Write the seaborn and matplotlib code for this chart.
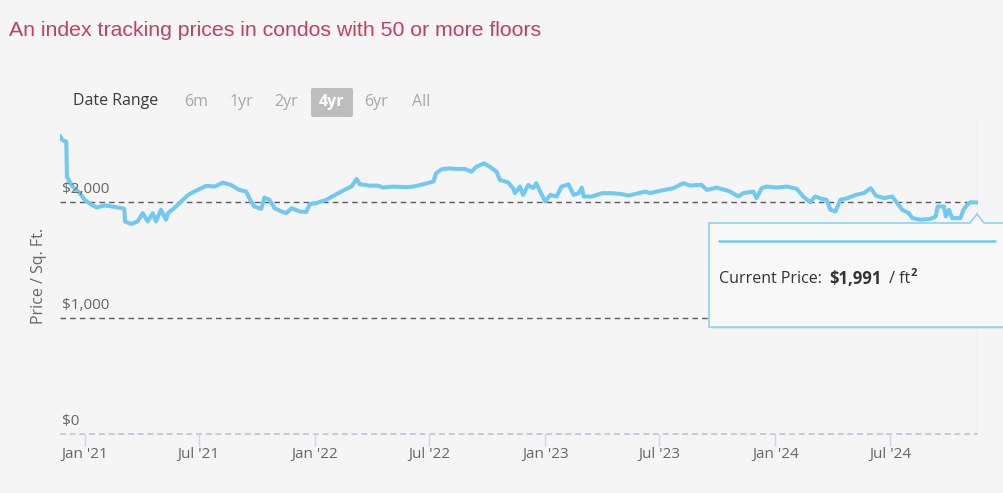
import matplotlib
matplotlib.use("Agg")
import matplotlib.pyplot as plt
from matplotlib.patches import Polygon, FancyBboxPatch
import pandas as pd
import seaborn as sns

# ---------------- data ----------------
dates = [
    "2020-11-23", "2020-11-27", "2020-12-03", "2020-12-04", "2020-12-08", "2020-12-13",
    "2020-12-24", "2021-01-01", "2021-01-12", "2021-01-20", "2021-02-02", "2021-02-14",
    "2021-02-28", "2021-03-05", "2021-03-06", "2021-03-16", "2021-03-26", "2021-04-03",
    "2021-04-11", "2021-04-19", "2021-04-24", "2021-05-02", "2021-05-10", "2021-05-13",
    "2021-05-23", "2021-06-03", "2021-06-14", "2021-06-29", "2021-07-13", "2021-07-26",
    "2021-08-08", "2021-08-21", "2021-09-03", "2021-09-14", "2021-09-22", "2021-09-27",
    "2021-10-08", "2021-10-13", "2021-10-21", "2021-10-29", "2021-11-09", "2021-11-17",
    "2021-11-25", "2021-12-08", "2021-12-18", "2021-12-24", "2022-01-03", "2022-01-19",
    "2022-02-04", "2022-02-20", "2022-02-28", "2022-03-08", "2022-03-13", "2022-03-29",
    "2022-04-11", "2022-04-19", "2022-05-05", "2022-05-26", "2022-06-06", "2022-06-22",
    "2022-07-08", "2022-07-12", "2022-07-21", "2022-08-03", "2022-08-11", "2022-08-27",
    "2022-09-06", "2022-09-14", "2022-09-26", "2022-10-05", "2022-10-16", "2022-10-21",
    "2022-11-03", "2022-11-11", "2022-11-14", "2022-11-22", "2022-11-27", "2022-12-05",
    "2022-12-13", "2022-12-18", "2022-12-24", "2023-01-01", "2023-01-09", "2023-01-19",
    "2023-01-27", "2023-02-07", "2023-02-15", "2023-02-23", "2023-02-28", "2023-03-03",
    "2023-03-16", "2023-04-01", "2023-04-17", "2023-05-03", "2023-05-13", "2023-05-29",
    "2023-06-09", "2023-06-16", "2023-07-02", "2023-07-23", "2023-08-08", "2023-08-19",
    "2023-08-30", "2023-09-06", "2023-09-14", "2023-09-30", "2023-10-13", "2023-10-21",
    "2023-11-03", "2023-11-11", "2023-11-27", "2023-12-02", "2023-12-10", "2023-12-18",
    "2024-01-03", "2024-01-19", "2024-02-04", "2024-02-14", "2024-02-25", "2024-03-04",
    "2024-03-14", "2024-03-22", "2024-03-28", "2024-04-05", "2024-04-13", "2024-04-24",
    "2024-05-07", "2024-05-20", "2024-05-31", "2024-06-08", "2024-06-21", "2024-07-04",
    "2024-07-12", "2024-07-20", "2024-07-30", "2024-08-05", "2024-08-18", "2024-09-03",
    "2024-09-11", "2024-09-14", "2024-09-24", "2024-09-27", "2024-10-02", "2024-10-07",
    "2024-10-20", "2024-10-25", "2024-10-31", "2024-11-05", "2024-11-17",
]
prices = [
    2566, 2529, 2515, 2214, 2172, 2129,
    2075, 2015, 1972, 1949, 1966, 1957,
    1943, 1937, 1828, 1806, 1828, 1900,
    1828, 1900, 1828, 1929, 1843, 1900,
    1943, 2000, 2057, 2100, 2135, 2129,
    2163, 2143, 2100, 2086, 2000, 1957,
    1937, 2034, 2015, 1943, 1914, 1900,
    1943, 1914, 1909, 1978, 1986, 2015,
    2063, 2109, 2129, 2195, 2149, 2137,
    2137, 2120, 2129, 2123, 2129, 2149,
    2172, 2244, 2278, 2286, 2281, 2281,
    2257, 2300, 2329, 2300, 2257, 2186,
    2166, 2115, 2072, 2129, 2057, 2143,
    2115, 2158, 2086, 2000, 2057, 2043,
    2129, 2149, 2057, 2072, 2120, 2043,
    2043, 2072, 2072, 2063, 2051, 2072,
    2086, 2072, 2092, 2115, 2158, 2137,
    2143, 2143, 2100, 2120, 2100, 2086,
    2043, 2072, 2086, 2029, 2115, 2129,
    2120, 2129, 2109, 2043, 1994, 2043,
    2023, 2015, 1929, 1914, 2015, 2029,
    2057, 2072, 2115, 2051, 2029, 2043,
    1986, 1929, 1900, 1857, 1843, 1851,
    1871, 1957, 1957, 1871, 1929, 1857,
    1857, 1929, 1972, 1994, 1991,
]
y_ticks = [0, 1000, 2000]
y_tick_labels = ["$0", "$1,000", "$2,000"]
x_tick_dates = ["2021-01-01", "2021-07-01", "2022-01-01", "2022-07-01",
                "2023-01-01", "2023-07-01", "2024-01-01", "2024-07-01"]
x_tick_labels = ["Jan '21", "Jul '21", "Jan '22", "Jul '22",
                 "Jan '23", "Jul '23", "Jan '24", "Jul '24"]
range_buttons = ["6m", "1yr", "2yr", "4yr", "6yr", "All"]
selected_button = "4yr"
title = "An index tracking prices in condos with 50 or more floors"
y_title = "Price / Sq. Ft."

df = pd.DataFrame({"date": pd.to_datetime(dates), "price": prices})

# ---------------- style ----------------
BG = "#f5f5f5"
LINE = "#6fc9f3"
sns.set_theme(style="white")
plt.rcParams["font.family"] = ["Open Sans", "DejaVu Sans"]

W, H = 1004, 493
fig = plt.figure(figsize=(W / 100, H / 100), dpi=100, facecolor=BG)


def fx(x):
    return x / W


def fy(y):
    return 1 - y / H


ax_left, ax_right, ax_top, ax_bottom = 60, 978, 118, 433.5
ax = fig.add_axes([fx(ax_left), fy(ax_bottom), fx(ax_right - ax_left), (ax_bottom - ax_top) / H])
ax.set_facecolor(BG)

sns.lineplot(data=df, x="date", y="price", ax=ax, color=LINE, linewidth=2.9,
             solid_joinstyle="round", solid_capstyle="round", zorder=3)

ax.set_xlim(df["date"].iloc[0], df["date"].iloc[-1])
ax.set_ylim(0, 2720)

# grid lines
ax.set_yticks(y_ticks)
ax.set_yticklabels([])
ax.tick_params(axis="y", length=0, left=False)
for v in y_ticks:
    if v == 0:
        ax.axhline(v, color="#c9c9dc", lw=1.4, ls=(0, (3, 2)), zorder=1, clip_on=False)
    else:
        ax.axhline(v, color="#5a5a5a", lw=1.0, ls=(0, (4, 3)), zorder=1)
for v, lab in zip(y_ticks, y_tick_labels):
    ax.annotate(lab, xy=(0, v), xycoords=("axes fraction", "data"),
                xytext=(2, 5), textcoords="offset pixels",
                ha="left", va="bottom", fontsize=11, color="#666666")

for s in ax.spines.values():
    s.set_visible(False)

# x ticks
ax.set_xticks(pd.to_datetime(x_tick_dates))
ax.set_xticklabels(x_tick_labels)
ax.tick_params(axis="x", bottom=True, length=8.5, width=1, color="#ccd6eb", labelsize=11,
               labelcolor="#666666", pad=1, direction="out")
ax.set_xlabel("")

ax.set_ylabel(y_title, fontsize=11.5, color="#666666")
ax.yaxis.set_label_coords(-0.014, 0.5)

# crosshair at last point
ax.axvline(df["date"].iloc[-1], color="#cccccc", lw=1, zorder=2)

# title
fig.text(fx(9), fy(31), title, fontsize=15.3, color="#c2405c",
         family=["Liberation Sans", "DejaVu Sans"], ha="left", va="center")

# date range selector
fig.text(fx(73), fy(101), "Date Range", fontsize=11.5, color="#3a3a3a", ha="left", va="center")
btn_x = [196, 241, 286, 332, 376, 421]
for lab, bx in zip(range_buttons, btn_x):
    if lab == selected_button:
        fig.patches.append(FancyBboxPatch((fx(bx - 21), fy(117)), fx(42), 29 / H,
                                          boxstyle="round,pad=0,rounding_size=0.003",
                                          transform=fig.transFigure, facecolor="#bdbdbd",
                                          edgecolor="none"))
        fig.text(fx(bx), fy(102), lab, fontsize=11.5, color="white", weight="bold",
                 ha="center", va="center")
    else:
        fig.text(fx(bx), fy(102), lab, fontsize=11.5, color="#a8a8a8",
                 ha="center", va="center")

# tooltip
tip = [(709, 223), (970, 223), (977, 214), (984, 223), (1010, 223), (1010, 327), (709, 327)]
shadow = Polygon([(fx(x + 2), fy(y + 2)) for x, y in tip], closed=True,
                 transform=fig.transFigure, facecolor="#000000", alpha=0.07,
                 edgecolor="none", zorder=5)
fig.patches.append(shadow)
box = Polygon([(fx(x), fy(y)) for x, y in tip], closed=True, transform=fig.transFigure,
              facecolor="#f8f8f8", edgecolor="#8fd2f0", lw=1.2, zorder=6)
fig.patches.append(box)
fig.add_artist(plt.Line2D([fx(719), fx(995)], [fy(241), fy(241)], color=LINE, lw=1.8,
                          transform=fig.transFigure, zorder=7))

fig.canvas.draw()
r = fig.canvas.get_renderer()
t1 = fig.text(fx(719), fy(279), "Current Price: ", fontsize=11.5, color="#333333",
              ha="left", va="center", zorder=8)
x1 = t1.get_window_extent(r).x1
t2 = fig.text((x1 + 3) / W, fy(279), f"${prices[-1]:,}", fontsize=12, color="#333333",
              weight="bold", ha="left", va="center", zorder=8)
x2 = t2.get_window_extent(r).x1
t3 = fig.text((x2 + 4) / W, fy(279), " / ft", fontsize=11.5, color="#333333",
              ha="left", va="center", zorder=8)
x3 = t3.get_window_extent(r).x1
fig.text(x3 / W, fy(273), "2", fontsize=8, color="#333333", weight="bold",
         ha="left", va="center", zorder=8)

fig.savefig("out.png", dpi=100, facecolor=BG)
